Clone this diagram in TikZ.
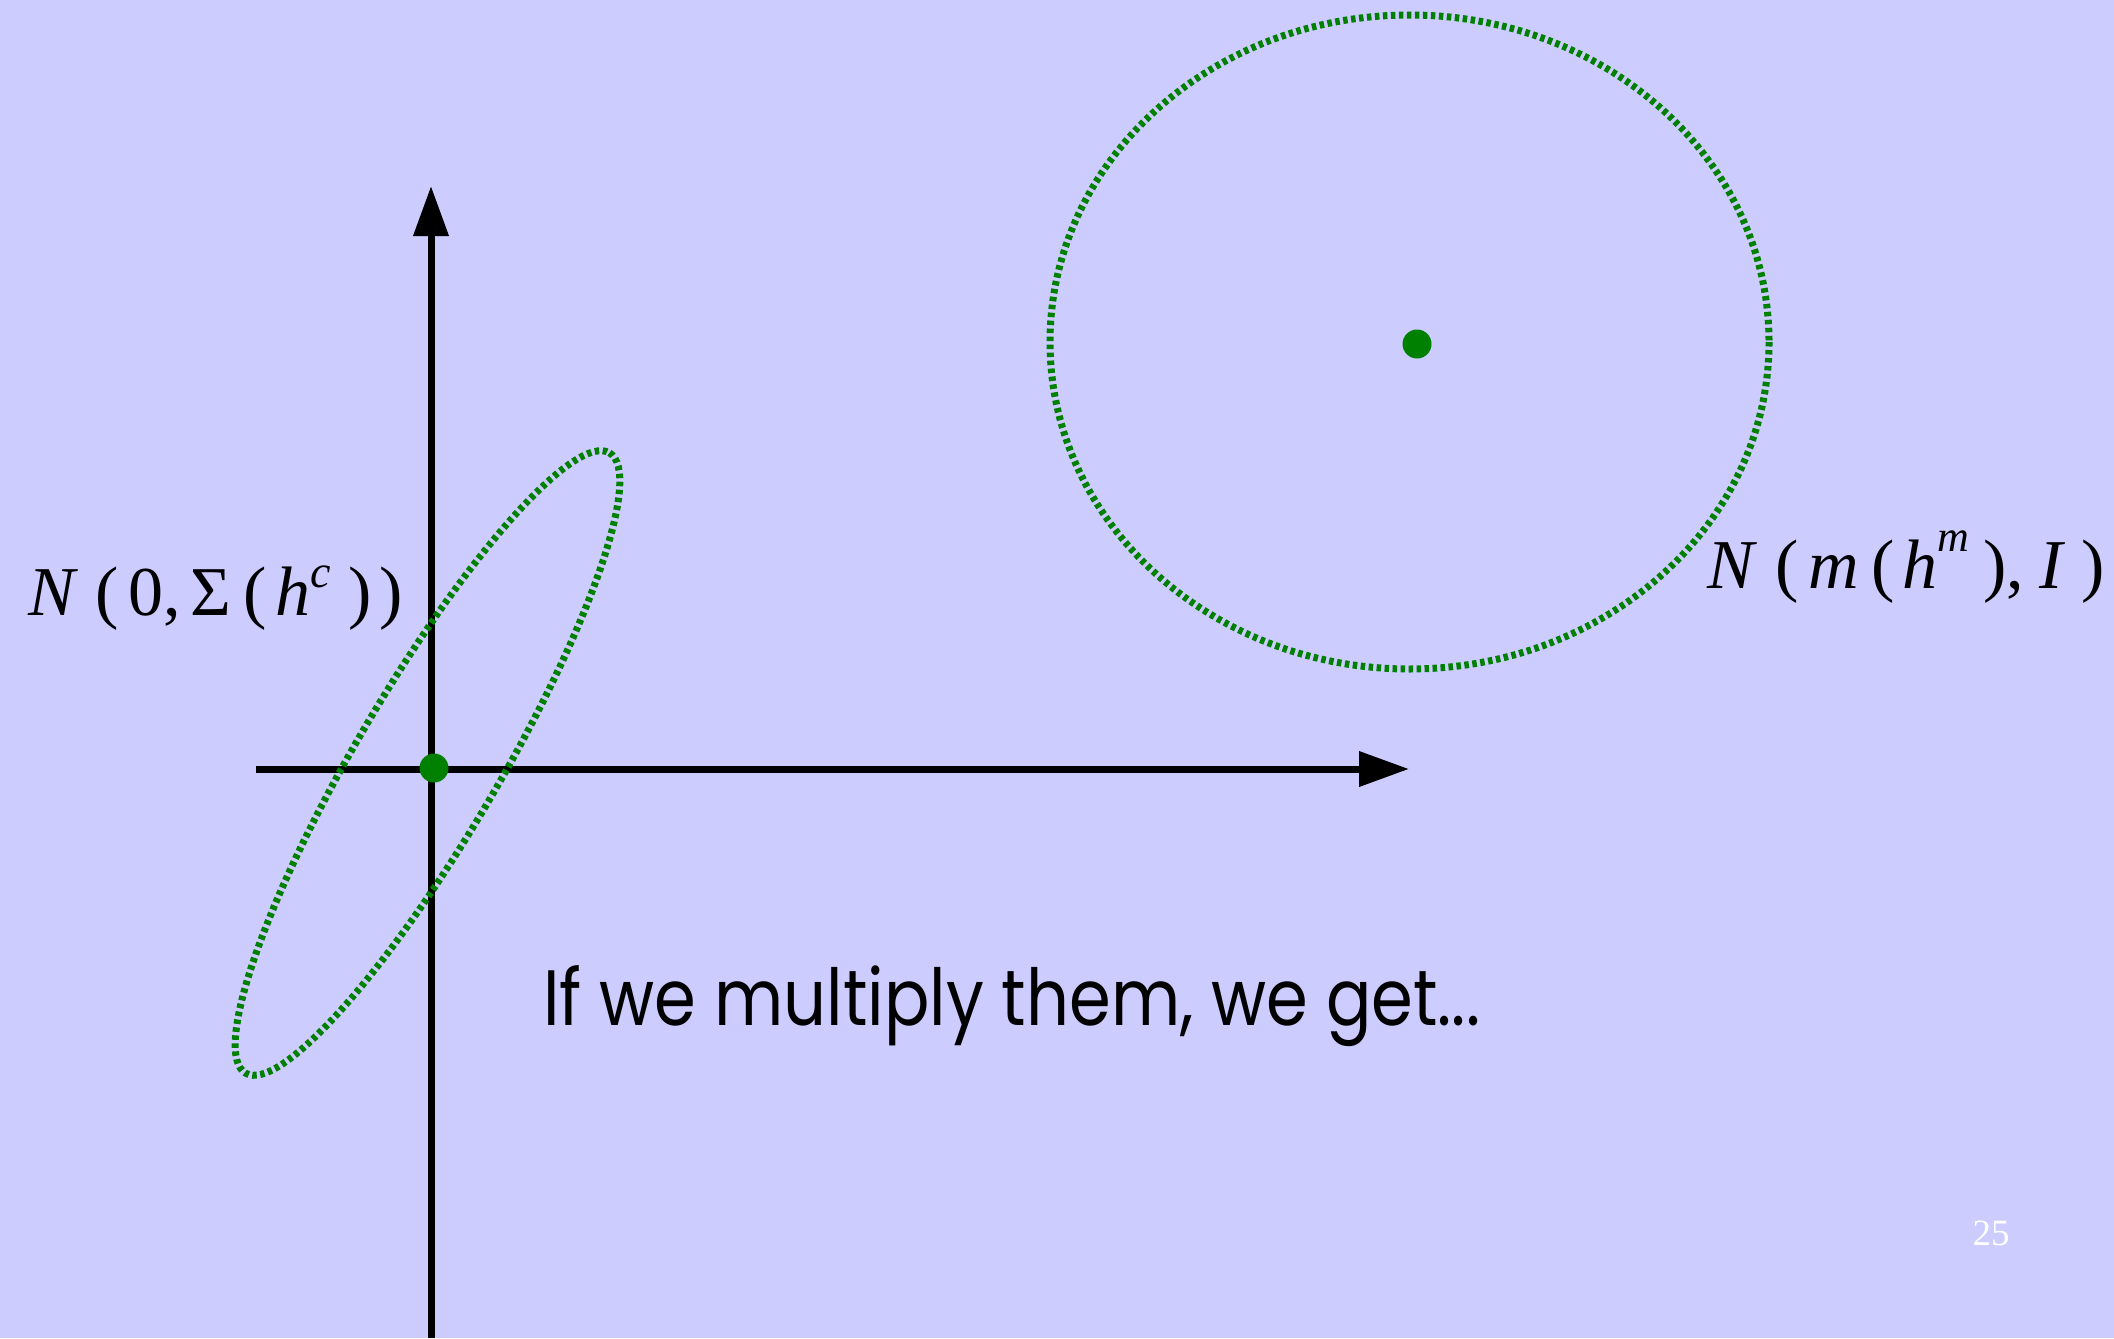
\documentclass[tikz,border=0pt]{standalone}
\usepackage{fontspec}
\usepackage{graphicx}
\setmainfont{Liberation Serif}
\newfontfamily\handfont{Poppins}
\usetikzlibrary{arrows.meta}
\definecolor{bg}{HTML}{CCCCFF}
\definecolor{dkgreen}{RGB}{0,128,0}
\begin{document}
\begin{tikzpicture}[x=1pt,y=-1pt,
  axis/.style={line width=7pt,-{Triangle[length=50pt,width=34pt]}},
  gauss/.style={draw=dkgreen,line width=7pt,dash pattern=on 4.5pt off 3.5pt},
  mean/.style={circle,fill=dkgreen,inner sep=0pt,minimum size=29pt},
  lbl/.style={anchor=base west,inner sep=0pt,font=\fontsize{70}{80}\selectfont}]
\fill[bg] (0,0) rectangle (2114,1338);
\useasboundingbox (0,0) rectangle (2114,1338);
\coordinate (yb) at (431,1338);
\coordinate (yt) at (431,186);
\coordinate (xl) at (256,769);
\coordinate (xr) at (1409,769);
\draw[axis] (yb) -- (yt);
\draw[axis] (xl) -- (xr);
\draw[gauss, rotate around={59.6:(427.5,763)}] (427.5,763) ellipse [x radius=359.6, y radius=72];
\draw[gauss] (1409.5,342) ellipse [x radius=359.5, y radius=327];
\node[mean] (m1) at (434,768) {};
\node[mean] (m2) at (1417,344) {};
\node[lbl] (l1) at (28,615) {\textit{N}\hspace{17pt}(\hspace{10pt}0,\hspace{10pt}Σ\hspace{12pt}(\hspace{8pt}\textit{h}\raisebox{28pt}{\fontsize{46}{46}\selectfont\textit{c}}\hspace{18pt})\hspace{8pt})};
\node[lbl] (l2) at (1707,588) {\textit{N}\hspace{18pt}(\hspace{10pt}\textit{m}\hspace{12pt}(\hspace{8pt}\textit{h}\raisebox{37pt}{\fontsize{44}{44}\selectfont\textit{m}}\hspace{14pt}),\hspace{16pt}\textit{I}\hspace{16pt})};
\node[anchor=base west,inner sep=0pt] (txt) at (543,1025) {\resizebox{937pt}{60pt}{\handfont\fontsize{80}{90}\selectfont If we multiply them, we get...}};
\node[anchor=base,inner sep=0pt,text=white,font=\fontsize{37}{40}\selectfont] (pg) at (1991,1245) {25};
\end{tikzpicture}
\end{document}
